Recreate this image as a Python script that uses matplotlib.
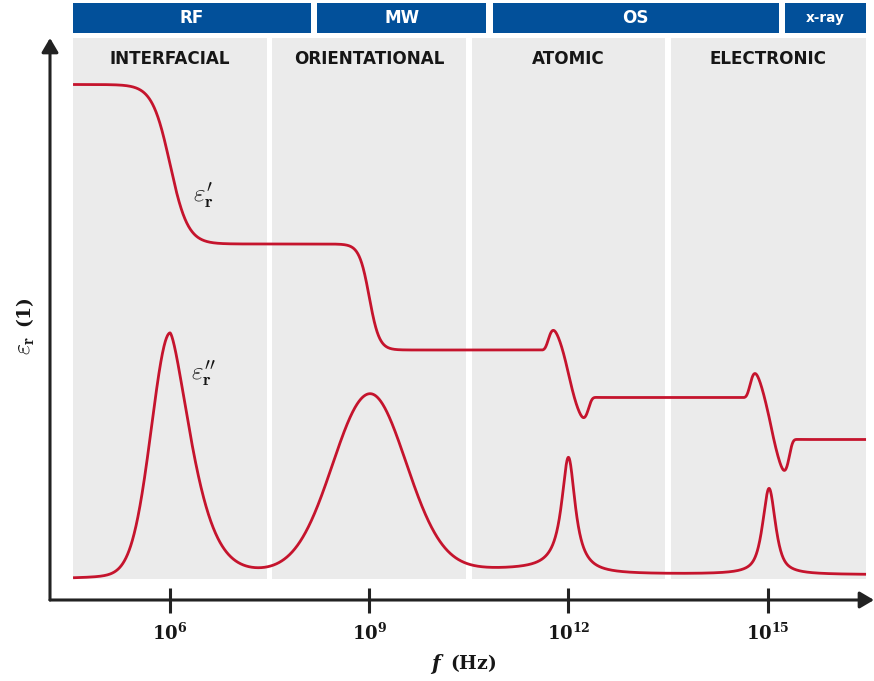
import numpy as np
import matplotlib
matplotlib.use("Agg")
import matplotlib.pyplot as plt
from matplotlib.patches import Rectangle

plt.rcParams["mathtext.fontset"] = "cm"
plt.rcParams["font.family"] = ["DejaVu Sans"]

# ---------------------------------------------------------------------------
# Frequency axis (log10 of f / Hz)
# ---------------------------------------------------------------------------
f_start, f_stop = 4.54, 16.48
tick_exponents = [6, 9, 12, 15]
tick_labels = [r"$\mathbf{10^{6}}$", r"$\mathbf{10^{9}}$",
               r"$\mathbf{10^{12}}$", r"$\mathbf{10^{15}}$"]

# Polarisation mechanisms and spectral bands
mechanisms = ["INTERFACIAL", "ORIENTATIONAL", "ATOMIC", "ELECTRONIC"]
mechanism_edges = [4.54, 7.5, 10.5, 13.5, 16.48]
bands = ["RF", "MW", "OS", "x-ray"]
band_edges = [4.54, 8.17, 10.81, 15.21, 16.48]

# Characteristic frequency of each mechanism
centers = [6.0, 9.0, 12.0, 15.02]

# Real part: plateaus from low to high frequency and step sharpness
eps_real_levels = [10.31, 7.12, 5.00, 4.05, 3.21]
step_widths = [0.134, 0.075, 0.07, 0.07]

# Resonant mechanisms (atomic, electronic): over- and undershoot of eps'
resonance_centers = [12.0, 15.03]
resonance_widths = [0.22, 0.215]
resonance_overshoot = [0.43, 0.52]
resonance_undershoot = [0.44, 0.65]

# Imaginary part: background level between mechanisms and loss peaks
loss_floor = [0.414, 0.57, 0.612, 0.512, 0.505]
loss_heights = [4.85, 3.53, 2.29, 1.72]
loss_hwhm_low = [0.34, 0.65, 0.125, 0.115]
loss_hwhm_high = [0.35, 0.65, 0.125, 0.115]
# Lorentzian share of each flank and exponent of its Gaussian share
loss_lorentz_low = [0.12, 0.0, 1.0, 0.75]
loss_lorentz_high = [0.0, 0.0, 1.0, 0.75]
loss_power_low = [2.0, 2.0, 2.0, 2.0]
loss_power_high = [1.46, 2.0, 2.0, 2.0]

# ---------------------------------------------------------------------------
# Curves
# ---------------------------------------------------------------------------
lf = np.linspace(f_start, f_stop, 3000)


def step_down(x, c, s):
    """1 below c, 0 above c."""
    return 1.0 / (1.0 + np.exp((x - c) / s))


eps_real = np.full_like(lf, eps_real_levels[-1])
for c, s, hi, lo in zip(centers, step_widths,
                        eps_real_levels[:-1], eps_real_levels[1:]):
    eps_real += (hi - lo) * step_down(lf, c, s)
for c, w, up, down in zip(resonance_centers, resonance_widths,
                          resonance_overshoot, resonance_undershoot):
    z = (lf - c) / w
    amp = np.where(z < 0, up, down)
    eps_real += -amp * z * np.exp((1.0 - z ** 6) / 6.0)

eps_imag = np.full_like(lf, loss_floor[-1])
for c, s, hi, lo in zip(centers, step_widths, loss_floor[:-1], loss_floor[1:]):
    eps_imag += (hi - lo) * step_down(lf, c, s)
for c, h, wl, wh, el, eh, pl, ph in zip(centers, loss_heights,
                                        loss_hwhm_low, loss_hwhm_high,
                                        loss_lorentz_low, loss_lorentz_high,
                                        loss_power_low, loss_power_high):
    d = lf - c
    low = d < 0
    u = np.abs(d) / np.where(low, wl, wh)
    eta = np.where(low, el, eh)
    p = np.where(low, pl, ph)
    prof = eta / (1.0 + u ** 2) + (1.0 - eta) * np.exp(-np.log(2.0) * u ** p)
    eps_imag += h * prof

# ---------------------------------------------------------------------------
# Figure
# ---------------------------------------------------------------------------
W, H = 874, 681
fig = plt.figure(figsize=(W / 100, H / 100), dpi=100)
ax = fig.add_axes([50 / W, (H - 600) / H, (874 - 50) / W, (600 - 38) / H])
ax.set_xlim(4.193, 16.60)
ax.set_ylim(0, 11.24)
for sp in ax.spines.values():
    sp.set_visible(False)
ax.set_yticks([])

panel_gray = "#EBEBEB"
band_blue = "#02509A"
curve_red = "#C5142D"
ink = "#222222"
text_ink = "#161616"

gap = 0.085
for i, name in enumerate(mechanisms):
    x0 = mechanism_edges[i] + (gap / 2 if i > 0 else 0)
    x1 = mechanism_edges[i + 1] - (gap / 2 if i < len(mechanisms) - 1 else 0)
    ax.add_patch(Rectangle((x0, 0.426), x1 - x0, 11.246 - 0.426,
                           facecolor=panel_gray, edgecolor="none",
                           zorder=0, clip_on=False))
    ax.text((x0 + x1) / 2, 10.81, name, ha="center", va="center",
            fontsize=12.1, fontweight="bold", color=text_ink, zorder=4)

bgap = 0.095
for i, name in enumerate(bands):
    x0 = band_edges[i] + (bgap / 2 if i > 0 else 0)
    x1 = band_edges[i + 1] - (bgap / 2 if i < len(bands) - 1 else 0)
    ax.add_patch(Rectangle((x0, 11.346), x1 - x0, 11.934 - 11.346,
                           facecolor=band_blue, edgecolor="none",
                           zorder=0, clip_on=False))
    ax.text((x0 + x1) / 2, 11.64, name, ha="center", va="center",
            fontsize=12.1 if name != "x-ray" else 9.8, fontweight="bold",
            color="white", zorder=4, clip_on=False)

ax.plot(lf, eps_real, color=curve_red, lw=2.0, zorder=2,
        solid_capstyle="butt")
ax.plot(lf, eps_imag, color=curve_red, lw=2.0, zorder=2,
        solid_capstyle="butt")

ax.text(6.51, 8.08, r"$\varepsilon^{\prime}_{\mathbf{r}}$", fontsize=18,
        ha="center", va="center", color=text_ink)
ax.text(6.50, 4.52, r"$\varepsilon^{\prime\prime}_{\mathbf{r}}$", fontsize=18,
        ha="center", va="center", color=text_ink)

# axes with arrow heads
arrow = dict(arrowstyle="-|>,head_length=0.85,head_width=0.5", lw=2.2,
             color=ink, shrinkA=0, shrinkB=0, mutation_scale=10)
ax.annotate("", xy=(1, 0), xytext=(0, 0), xycoords="axes fraction",
            textcoords="axes fraction", arrowprops=arrow, zorder=5)
ax.annotate("", xy=(0, 1), xytext=(0, 0), xycoords="axes fraction",
            textcoords="axes fraction", arrowprops=arrow, zorder=5)

ax.set_xticks(tick_exponents)
labels = ax.set_xticklabels(tick_labels)
for t in labels:
    t.set_math_fontfamily("dejavuserif")
ax.tick_params(axis="x", direction="inout", length=18, width=2.2,
               color=ink, pad=7.0, labelsize=13, labelcolor=text_ink)

# axis titles
fig.text(435 / W, 1 - 664 / H, "f", fontsize=14.5, family="DejaVu Serif",
         style="italic", fontweight="bold", ha="center", va="center",
         color=text_ink)
fig.text(473 / W, 1 - 663 / H, r"$\mathbf{(Hz)}$", fontsize=13.5,
         ha="center", va="center", color=text_ink,
         math_fontfamily="dejavuserif")
fig.text(25 / W, 1 - 345 / H, r"$\varepsilon_{\mathbf{r}}$", fontsize=17,
         rotation=90, ha="center", va="center", color=text_ink)
fig.text(25 / W, 1 - 313 / H, r"$\mathbf{(1)}$", fontsize=13.5,
         rotation=90, ha="center", va="center", color=text_ink,
         math_fontfamily="dejavuserif")

fig.savefig("out.png", dpi=100)
